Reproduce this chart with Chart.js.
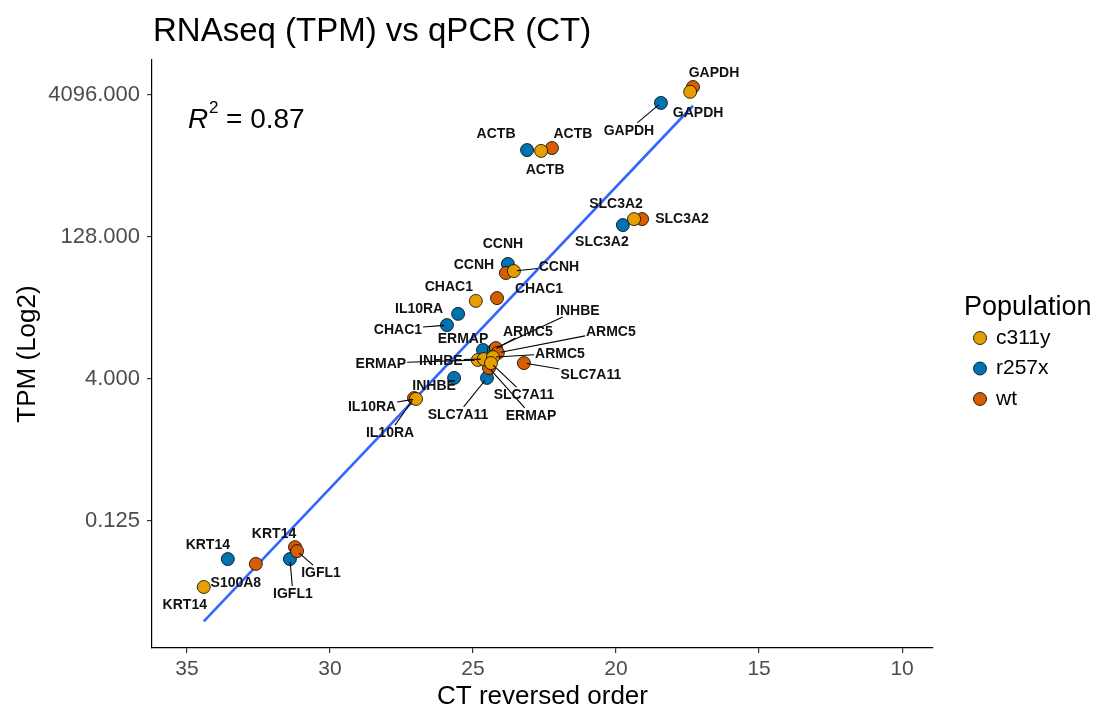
<!DOCTYPE html>
<html>
<head>
<meta charset="utf-8">
<title>RNAseq (TPM) vs qPCR (CT)</title>
<script src="https://cdn.jsdelivr.net/npm/chart.js@4.4.1/dist/chart.umd.min.js"></script>
<style>
  html, body { margin: 0; padding: 0; background: #fff; }
  #wrap { width: 1094px; height: 711px; }
</style>
</head>
<body>
<div id="wrap"><canvas id="myChart" width="1094" height="711"></canvas></div>
<script>
// values: CT on x, TPM on y (log2 axis)
var genesC311y = ['GAPDH', 'ACTB', 'SLC3A2', 'CCNH', 'CHAC1', 'IL10RA', 'ERMAP', 'INHBE', 'ARMC5', 'SLC7A11', 'KRT14'];
var ctC311y    = [17.41, 22.62, 19.37, 23.57, 24.90, 26.99, 24.83, 24.62, 24.30, 24.37, 34.41];
var tpmC311y   = [4421, 1045, 198, 55.7, 26.9, 2.46, 6.36, 6.50, 6.82, 5.90, 0.0250];

var genesR257x = ['GAPDH', 'ACTB', 'SLC3A2', 'CCNH', 'CHAC1', 'IL10RA', 'ERMAP', 'INHBE', 'ARMC5', 'SLC7A11', 'KRT14', 'IGFL1'];
var ctR257x    = [18.43, 23.11, 19.76, 23.78, 25.91, 25.52, 24.65, 25.66, 24.27, 24.51, 33.57, 31.40];
var tpmR257x   = [3371, 1067, 171, 66.3, 14.9, 19.6, 8.11, 4.11, 8.11, 4.11, 0.0494, 0.0494];

var genesWt = ['GAPDH', 'ACTB', 'SLC3A2', 'CCNH', 'CHAC1', 'IL10RA', 'ERMAP', 'INHBE', 'ARMC5', 'SLC7A11', 'KRT14', 'IGFL1', 'S100A8'];
var ctWt    = [17.31, 22.24, 19.09, 23.85, 24.16, 27.06, 24.44, 24.20, 24.13, 23.22, 31.22, 31.15, 32.59];
var tpmWt   = [4972, 1121, 198, 53.1, 28.8, 2.51, 5.24, 8.51, 7.57, 5.90, 0.0661, 0.0600, 0.0439];

var xTicks = [10, 15, 20, 25, 30, 35];
var yTicks = [0.125, 4, 128, 4096];
var rSquared = '0.87';

// label placement (pixel nudge from the point, and whether a leader line is drawn)
var nudgeC311y = [[8,20,0],[4,18,0],[-18,-16,0],[45,-5,1],[-27,-15,0],[-44,7,1],[-97,3,1],[-43,1,1],[67,-4,1],[33,31,1],[-19,17,0]];
var nudgeR257x = [[-32,27,1],[-31,-17,0],[-21,16,0],[-5,-21,0],[-49,4,1],[-39,-6,0],[-20,-12,0],[-20,7,0],[34,-19,1],[-29,36,1],[-20,-15,0],[3,34,1]];
var nudgeWt    = [[21,-15,0],[21,-15,0],[40,-1,0],[-32,-9,0],[42,-10,0],[-24,34,1],[42,47,1],[82,-38,1],[113,-22,1],[67,11,1],[-21,-14,0],[24,21,1],[-20,18,0]];

var fam = "'Liberation Sans', Arial, sans-serif";
Chart.defaults.font.family = fam;

var groups = [
  { name: 'c311y', genes: genesC311y, ct: ctC311y, tpm: tpmC311y, nudge: nudgeC311y, color: '#E69F00', order: 0 },
  { name: 'r257x', genes: genesR257x, ct: ctR257x, tpm: tpmR257x, nudge: nudgeR257x, color: '#0072B2', order: 2 },
  { name: 'wt',    genes: genesWt,    ct: ctWt,    tpm: tpmWt,    nudge: nudgeWt,    color: '#D55E00', order: 1 }
];

// linear fit of log2(TPM) on CT, over the range of the data
var allX = [], allY = [];
groups.forEach(function(g) {
  g.ct.forEach(function(v, i) { allX.push(v); allY.push(Math.log2(g.tpm[i])); });
});
var n = allX.length, mx = 0, my = 0;
allX.forEach(function(v, i) { mx += v / n; my += allY[i] / n; });
var sxy = 0, sxx = 0;
allX.forEach(function(v, i) { sxy += (v - mx) * (allY[i] - my); sxx += (v - mx) * (v - mx); });
var slope = sxy / sxx, icpt = my - slope * mx;
var xLo = Math.min.apply(null, allX), xHi = Math.max.apply(null, allX);
var fitLine = [xLo, xHi].map(function(x) { return { x: x, y: Math.pow(2, icpt + slope * x) }; });

var datasets = groups.map(function(g) {
  return {
    label: g.name,
    data: g.ct.map(function(x, i) { return { x: x, y: g.tpm[i] }; }),
    backgroundColor: g.color,
    borderColor: '#000',
    borderWidth: 0.8,
    pointRadius: 6.5,
    order: g.order
  };
});
datasets.push({
  type: 'line', label: 'fit', data: fitLine,
  borderColor: '#3366FF', borderWidth: 2.6, pointRadius: 0, fill: false, order: 3
});

var geneLabels = {
  id: 'geneLabels',
  afterDatasetsDraw: function(chart) {
    var ctx = chart.ctx;
    ctx.save();
    ctx.font = 'bold 14px ' + fam;
    ctx.textAlign = 'center';
    ctx.textBaseline = 'middle';
    ctx.strokeStyle = '#000';
    ctx.lineWidth = 1.1;
    var items = [];
    groups.forEach(function(g, di) {
      var meta = chart.getDatasetMeta(di);
      g.genes.forEach(function(name, i) {
        var p = meta.data[i], off = g.nudge[i];
        items.push({ name: name, px: p.x, py: p.y, lx: p.x + off[0], ly: p.y + off[1], seg: off[2] });
      });
    });
    items.forEach(function(it) {
      if (!it.seg) return;
      var w = ctx.measureText(it.name).width / 2 + 1, h = 7;
      var dx = it.px - it.lx, dy = it.py - it.ly;
      var len = Math.sqrt(dx * dx + dy * dy);
      var t = Math.min(dx ? w / Math.abs(dx) : 1e9, dy ? h / Math.abs(dy) : 1e9);
      ctx.beginPath();
      ctx.moveTo(it.lx + dx * t, it.ly + dy * t);
      ctx.lineTo(it.px - dx / len * 3, it.py - dy / len * 3);
      ctx.stroke();
    });
    ctx.fillStyle = '#111';
    items.forEach(function(it) { ctx.fillText(it.name, it.lx, it.ly + 1); });
    ctx.restore();
  },
  afterDraw: function(chart) {
    var ctx = chart.ctx;
    ctx.save();
    ctx.fillStyle = '#000';
    ctx.textAlign = 'left';
    ctx.textBaseline = 'alphabetic';
    // title
    ctx.font = '33px ' + fam;
    ctx.fillText('RNAseq (TPM) vs qPCR (CT)', 153, 41);
    // R squared
    ctx.font = 'italic 28px ' + fam;
    ctx.fillText('R', 188, 128);
    ctx.font = '17px ' + fam;
    ctx.fillText('2', 209, 113);
    ctx.font = '28px ' + fam;
    ctx.fillText('= ' + rSquared, 226, 128);
    // legend
    ctx.textBaseline = 'middle';
    ctx.font = '27px ' + fam;
    ctx.fillText('Population', 964, 308);
    ctx.font = '21px ' + fam;
    groups.forEach(function(g, i) {
      var y = 338 + i * 30.5;
      ctx.beginPath();
      ctx.arc(980, y, 6.5, 0, Math.PI * 2);
      ctx.fillStyle = g.color;
      ctx.fill();
      ctx.lineWidth = 0.8;
      ctx.strokeStyle = '#000';
      ctx.stroke();
      ctx.fillStyle = '#000';
      ctx.fillText(g.name, 996, y);
    });
    ctx.restore();
  }
};

var ctx = document.getElementById('myChart').getContext('2d');
var myChart = new Chart(ctx, {
  type: 'scatter',
  data: { datasets: datasets },
  plugins: [geneLabels],
  options: {
    responsive: false,
    animation: false,
    events: [],
    layout: { padding: { top: 60, right: 161, left: 0, bottom: 0 } },
    plugins: { legend: { display: false }, tooltip: { enabled: false } },
    scales: {
      x: {
        type: 'linear',
        reverse: true,
        min: 8.92,
        max: 36.22,
        afterBuildTicks: function(s) { s.ticks = xTicks.map(function(v) { return { value: v }; }); },
        afterFit: function(s) { s.height = 63; },
        ticks: { color: '#4D4D4D', font: { size: 21 }, padding: 4, maxRotation: 0 },
        grid: { drawOnChartArea: false, color: '#333', tickLength: 5, lineWidth: 1.2 },
        border: { display: true, color: '#000', width: 1.2 },
        title: { display: true, text: 'CT reversed order', color: '#000', font: { size: 26, lineHeight: 1 }, padding: { top: 0, bottom: 1 } }
      },
      y: {
        type: 'logarithmic',
        min: Math.pow(2, -7.47),
        max: Math.pow(2, 13.23),
        afterBuildTicks: function(s) { s.ticks = yTicks.map(function(v) { return { value: v }; }); },
        afterFit: function(s) { s.width = 152; },
        ticks: { color: '#4D4D4D', font: { size: 22 }, padding: 7, callback: function(v) { return Number(v).toFixed(3); } },
        grid: { drawOnChartArea: false, color: '#333', tickLength: 5, lineWidth: 1.2 },
        border: { display: true, color: '#000', width: 1.2 },
        title: { display: true, text: 'TPM (Log2)', color: '#000', font: { size: 26, lineHeight: 1 }, padding: { top: 15, bottom: 0 } }
      }
    }
  }
});
</script>
</body>
</html>
